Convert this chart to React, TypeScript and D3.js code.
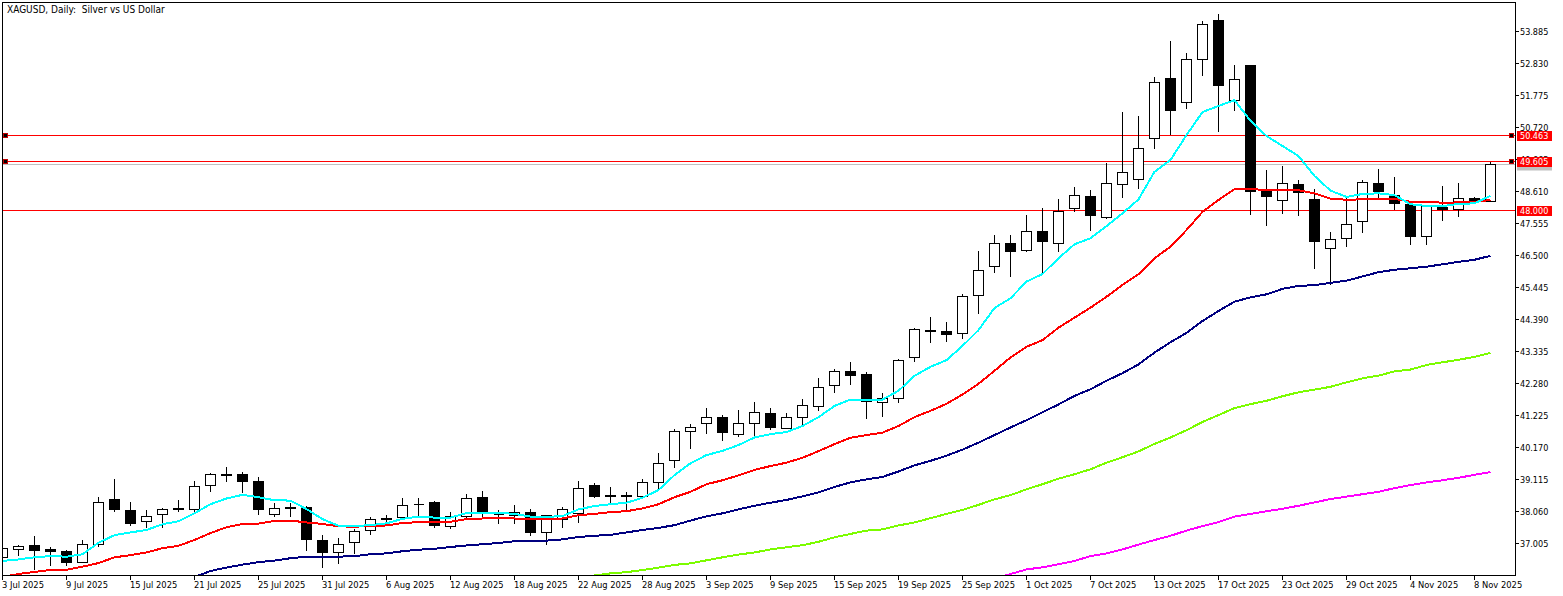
import React, { useEffect, useRef } from 'react';
import * as d3 from 'd3';

const title = 'XAGUSD, Daily:  Silver vs US Dollar';

const opens = [
  36.54, 36.81, 36.94, 36.81, 36.74, 36.38, 36.97, 38.46, 38.09, 37.73,
  37.96, 38.16, 38.13, 38.92, 39.28, 39.28, 39.05, 37.96, 38.19, 38.19,
  37.10, 36.71, 37.04, 37.43, 37.83, 37.86, 38.29, 38.36, 37.56, 37.89,
  38.52, 37.96, 37.93, 38.03, 37.37, 37.80, 37.99, 38.92, 38.55, 38.59,
  38.55, 39.02, 39.74, 40.70, 40.96, 41.16, 40.60, 40.96, 41.29, 40.80,
  41.16, 41.52, 42.22, 42.68, 42.58, 41.65, 41.78, 43.14, 44.03, 44.00,
  43.93, 45.18, 46.14, 46.89, 46.67, 47.29, 46.89, 48.05, 48.45, 47.75,
  48.84, 49.01, 50.36, 52.34, 51.54, 52.96, 54.25, 51.61, 52.76, 48.61,
  48.31, 48.84, 48.35, 46.73, 47.06, 47.62, 48.87, 48.48, 48.18, 47.13,
  48.08, 48.02, 48.38, 48.28,
];
const highs = [
  36.91, 36.94, 37.23, 36.87, 36.77, 37.10, 38.52, 39.11, 38.36, 38.09,
  38.16, 38.42, 39.05, 39.31, 39.51, 39.35, 39.18, 38.32, 38.32, 38.22,
  37.27, 37.17, 37.47, 37.86, 37.93, 38.49, 38.49, 38.39, 38.03, 38.62,
  38.72, 38.09, 38.26, 38.13, 37.93, 38.19, 39.05, 38.98, 38.85, 38.69,
  39.11, 39.97, 40.76, 40.93, 41.46, 41.23, 41.39, 41.65, 41.46, 41.29,
  41.75, 42.44, 42.74, 42.97, 42.64, 41.95, 43.07, 44.09, 44.46, 44.29,
  45.21, 46.63, 47.16, 47.16, 47.82, 48.05, 48.35, 48.74, 48.64, 49.53,
  51.21, 51.08, 52.37, 53.55, 53.16, 54.21, 54.45, 52.76, 52.76, 49.30,
  49.43, 48.97, 48.68, 47.26, 48.41, 48.97, 49.33, 49.07, 48.18, 48.11,
  48.77, 48.87, 48.41, 49.56,
];
const lows = [
  36.51, 36.61, 36.15, 36.28, 36.28, 36.38, 36.91, 38.06, 37.60, 37.53,
  37.53, 38.06, 38.03, 38.72, 39.05, 38.69, 37.96, 37.89, 37.89, 36.77,
  36.21, 36.34, 36.67, 37.30, 37.73, 37.83, 37.93, 37.53, 37.50, 37.83,
  37.83, 37.66, 37.66, 37.27, 36.97, 37.53, 37.70, 38.52, 38.36, 38.06,
  38.55, 38.82, 39.51, 40.14, 40.63, 40.40, 40.53, 40.57, 40.76, 40.80,
  40.93, 41.39, 41.98, 42.25, 41.13, 41.19, 41.65, 43.01, 43.63, 43.66,
  43.76, 44.59, 45.94, 45.81, 46.63, 45.94, 46.63, 47.95, 47.32, 47.72,
  48.41, 48.71, 50.03, 50.49, 51.35, 52.43, 50.59, 51.28, 47.85, 47.49,
  47.88, 47.82, 46.07, 45.54, 46.80, 47.26, 48.38, 48.02, 46.86, 46.86,
  47.65, 47.79, 48.25, 48.28,
];
const closes = [
  36.84, 36.91, 36.77, 36.74, 36.38, 36.97, 38.36, 38.13, 37.66, 37.89,
  38.13, 38.13, 38.88, 39.28, 39.25, 39.05, 38.13, 38.16, 38.16, 37.14,
  36.71, 36.97, 37.40, 37.80, 37.80, 38.26, 38.29, 37.60, 37.89, 38.49,
  38.03, 37.96, 38.03, 37.37, 37.93, 38.13, 38.82, 38.55, 38.59, 38.55,
  39.02, 39.64, 40.70, 40.83, 41.16, 40.66, 40.96, 41.32, 40.83, 41.16,
  41.55, 42.15, 42.68, 42.55, 41.69, 41.78, 43.04, 44.06, 44.00, 43.90,
  45.15, 46.01, 46.89, 46.63, 47.29, 46.96, 47.95, 48.48, 47.82, 48.87,
  49.24, 50.03, 52.20, 51.28, 52.96, 54.12, 52.10, 52.30, 48.61, 48.45,
  48.87, 48.58, 46.96, 47.03, 47.52, 48.91, 48.61, 48.21, 47.13, 48.11,
  48.02, 48.38, 48.28, 49.50,
];

// moving averages, one value per bar
const maCyan = [
  36.43, 36.48, 36.55, 36.59, 36.57, 36.65, 37.03, 37.28, 37.37, 37.45,
  37.64, 37.74, 38.00, 38.30, 38.49, 38.61, 38.53, 38.43, 38.42, 38.14,
  37.81, 37.59, 37.58, 37.61, 37.67, 37.82, 37.89, 37.86, 37.86, 38.01,
  38.02, 38.02, 37.98, 37.89, 37.88, 37.91, 38.13, 38.24, 38.30, 38.35,
  38.51, 38.77, 39.26, 39.65, 39.92, 40.06, 40.25, 40.50, 40.61, 40.68,
  40.88, 41.17, 41.54, 41.75, 41.74, 41.75, 42.04, 42.53, 42.83, 43.05,
  43.52, 44.04, 44.77, 45.09, 45.64, 45.89, 46.41, 46.87, 47.07, 47.47,
  47.89, 48.35, 49.26, 49.65, 50.47, 51.23, 51.43, 51.62, 50.94, 50.44,
  50.11, 49.78, 49.12, 48.64, 48.43, 48.53, 48.55, 48.49, 48.19, 48.13,
  48.13, 48.20, 48.22, 48.47,
];
const maRed = [
  35.90, 36.00, 36.07, 36.13, 36.14, 36.24, 36.36, 36.55, 36.62, 36.71,
  36.85, 36.93, 37.12, 37.35, 37.54, 37.65, 37.66, 37.75, 37.76, 37.70,
  37.65, 37.57, 37.56, 37.58, 37.60, 37.68, 37.71, 37.71, 37.72, 37.81,
  37.83, 37.83, 37.83, 37.81, 37.81, 37.83, 37.94, 37.98, 38.04, 38.07,
  38.16, 38.30, 38.53, 38.71, 38.96, 39.09, 39.25, 39.43, 39.56, 39.67,
  39.83, 40.05, 40.28, 40.49, 40.58, 40.66, 40.88, 41.17, 41.38, 41.61,
  41.92, 42.27, 42.70, 43.14, 43.49, 43.71, 44.12, 44.45, 44.78, 45.14,
  45.53, 45.88, 46.41, 46.79, 47.34, 47.94, 48.33, 48.69, 48.69, 48.66,
  48.66, 48.65, 48.55, 48.37, 48.34, 48.35, 48.37, 48.37, 48.27, 48.27,
  48.24, 48.25, 48.27, 48.33,
];
// the slower averages only enter the visible price range later on
const maNavyStart = 12;
const maNavy = [
  35.90, 36.10, 36.21, 36.31, 36.39, 36.44, 36.52, 36.57, 36.57, 36.57,
  36.59, 36.65, 36.68, 36.75, 36.80, 36.83, 36.89, 36.94, 36.98, 37.02,
  37.08, 37.10, 37.10, 37.14, 37.22, 37.26, 37.29, 37.37, 37.45, 37.52,
  37.61, 37.76, 37.90, 38.00, 38.13, 38.25, 38.35, 38.44, 38.56, 38.69,
  38.87, 39.02, 39.12, 39.20, 39.38, 39.58, 39.73, 39.90, 40.10, 40.33,
  40.58, 40.83, 41.07, 41.33, 41.59, 41.87, 42.09, 42.37, 42.62, 42.91,
  43.30, 43.64, 43.95, 44.34, 44.67, 44.98, 45.12, 45.22, 45.40, 45.50,
  45.52, 45.60, 45.67, 45.81, 45.95, 46.03, 46.08, 46.13, 46.21, 46.29,
  46.36, 46.49,
];
const maLimeStart = 36;
const maLime = [
  35.90, 35.95, 36.02, 36.06, 36.13, 36.21, 36.30, 36.35, 36.45, 36.55,
  36.64, 36.71, 36.81, 36.88, 36.95, 37.06, 37.21, 37.32, 37.43, 37.47,
  37.60, 37.70, 37.84, 37.98, 38.11, 38.28, 38.46, 38.60, 38.79, 38.96,
  39.14, 39.29, 39.45, 39.67, 39.85, 40.04, 40.29, 40.50, 40.74, 41.01,
  41.24, 41.47, 41.60, 41.71, 41.86, 41.99, 42.08, 42.17, 42.32, 42.45,
  42.54, 42.68, 42.74, 42.89, 42.98, 43.06, 43.16, 43.29,
];
const maMagentaStart = 62;
const maMagenta = [
  35.84, 36.00, 36.15, 36.22, 36.32, 36.43, 36.59, 36.68, 36.81, 36.97,
  37.12, 37.26, 37.43, 37.58, 37.71, 37.89, 37.98, 38.07, 38.15, 38.25,
  38.36, 38.47, 38.55, 38.63, 38.71, 38.83, 38.93, 39.02, 39.09, 39.17,
  39.27, 39.36,
];

const priceTicks = [
  '53.885', '52.830', '51.775', '50.720', '49.665', '48.610', '47.555', '46.500',
  '45.445', '44.390', '43.335', '42.280', '41.225', '40.170', '39.115', '38.060', '37.005',
];
const dateLabels = [
  '3 Jul 2025', '9 Jul 2025', '15 Jul 2025', '21 Jul 2025', '25 Jul 2025', '31 Jul 2025',
  '6 Aug 2025', '12 Aug 2025', '18 Aug 2025', '22 Aug 2025', '28 Aug 2025', '3 Sep 2025',
  '9 Sep 2025', '15 Sep 2025', '19 Sep 2025', '25 Sep 2025', '1 Oct 2025', '7 Oct 2025',
  '13 Oct 2025', '17 Oct 2025', '23 Oct 2025', '29 Oct 2025', '4 Nov 2025', '8 Nov 2025',
];
const dateStep = 4; // bars between two date labels

const levels = ['50.463', '49.605', '48.000'];
const bidLevel = '49.500';

const FONT = '"DejaVu Sans", sans-serif';

const App: React.FC = () => {
  const svgRef = useRef<SVGSVGElement>(null);

  useEffect(() => {
    if (!svgRef.current) return;
    const svg = d3.select(svgRef.current);
    svg.selectAll('*').remove();

    const left = 2;
    const right = 1515;
    const top = 2;
    const bottom = 575;

    const x = d3.scaleLinear().domain([0, opens.length - 1]).range([2.5, 1490.5]);
    const y = d3.scaleLinear().domain([53.885, 37.005]).range([31.5, 543.5]);
    // snap to the pixel row, the terminal draws everything aliased
    const row = (v: number) => Math.floor(y(v)) + 0.5;

    svg.append('defs').append('clipPath').attr('id', 'plot')
      .append('rect')
      .attr('x', left + 1).attr('y', top + 1)
      .attr('width', right - left - 1).attr('height', bottom - top - 1);

    const plot = svg.append('g').attr('clip-path', 'url(#plot)').attr('shape-rendering', 'crispEdges');

    // Horizontal levels sit behind the candles
    plot.append('line')
      .attr('x1', left).attr('x2', right)
      .attr('y1', row(+bidLevel)).attr('y2', row(+bidLevel))
      .attr('stroke', '#c0c0c0');
    plot.selectAll('line.level').data(levels).join('line')
      .attr('class', 'level')
      .attr('x1', left).attr('x2', right)
      .attr('y1', d => row(+d)).attr('y2', d => row(+d))
      .attr('stroke', '#ff0000');

    // Candles
    const bars = d3.range(opens.length);
    plot.selectAll('line.wick').data(bars).join('line')
      .attr('class', 'wick')
      .attr('x1', i => x(i)).attr('x2', i => x(i))
      .attr('y1', i => row(highs[i]) - 0.5).attr('y2', i => row(lows[i]) + 0.5)
      .attr('stroke', '#000');
    plot.selectAll('path.body').data(bars).join('path')
      .attr('class', 'body')
      .attr('d', i => {
        const t = row(Math.max(opens[i], closes[i]));
        const b = row(Math.min(opens[i], closes[i]));
        return `M${x(i) - 5},${t}H${x(i) + 5}V${b}H${x(i) - 5}Z`;
      })
      .attr('fill', i => (closes[i] < opens[i] ? '#000' : '#fff'))
      .attr('stroke', '#000');

    // Moving averages
    const drawMa = (values: number[], start: number, color: string) => {
      const line = d3.line<number>()
        .x((_, i) => x(i + start))
        .y(d => y(d));
      plot.append('path')
        .attr('d', line(values))
        .attr('fill', 'none')
        .attr('stroke', color)
        .attr('stroke-width', 2);
    };
    drawMa(maMagenta, maMagentaStart, '#ff00ff');
    drawMa(maLime, maLimeStart, '#7cfc00');
    drawMa(maNavy, maNavyStart, '#000080');
    drawMa(maRed, 0, '#ff0000');
    drawMa(maCyan, 0, '#00ffff');

    // Frame
    const frame = svg.append('g').attr('shape-rendering', 'crispEdges').attr('stroke', '#000');
    frame.append('rect')
      .attr('x', left + 0.5).attr('y', top + 0.5)
      .attr('width', right - left).attr('height', bottom - top)
      .attr('fill', 'none');

    // Price axis
    const priceAxis = svg.append('g');
    priceAxis.selectAll('line').data(priceTicks).join('line')
      .attr('shape-rendering', 'crispEdges')
      .attr('x1', right).attr('x2', right + 4)
      .attr('y1', d => row(+d)).attr('y2', d => row(+d))
      .attr('stroke', '#000');
    const labelStyle = (sel: any) => sel
      .attr('font-family', FONT)
      .attr('font-stretch', 'condensed')
      .attr('font-size', 9)
      .style('white-space', 'pre');
    priceAxis.selectAll('text').data(priceTicks).join('text')
      .attr('x', right + 5)
      .attr('y', d => row(+d) + 3.5)
      .text(d => d)
      .call(labelStyle);

    // Time axis
    const dateIndex = dateLabels.map((_, k) => k * dateStep);
    const timeAxis = svg.append('g');
    timeAxis.selectAll('line').data(dateIndex).join('line')
      .attr('shape-rendering', 'crispEdges')
      .attr('x1', i => x(i)).attr('x2', i => x(i))
      .attr('y1', bottom).attr('y2', bottom + 5)
      .attr('stroke', '#000');
    timeAxis.selectAll('text').data(dateLabels).join('text')
      .attr('x', (_, k) => Math.floor(x(k * dateStep)))
      .attr('y', bottom + 13)
      .text(d => d)
      .call(labelStyle)
      .attr('font-size', 9.3);

    // Level tags on the price axis
    const tags = svg.append('g');
    tags.append('rect')
      .attr('x', right + 2).attr('width', 35)
      .attr('y', row(+bidLevel) - 5).attr('height', 11)
      .attr('fill', '#c0c0c0');
    levels.forEach(level => {
      const ly = row(+level);
      tags.append('rect')
        .attr('x', right + 2).attr('width', 35)
        .attr('y', ly - 4.5).attr('height', 10)
        .attr('fill', '#ff0000');
      tags.append('text')
        .attr('x', right + 5)
        .attr('y', ly + 3.5)
        .attr('fill', '#fff')
        .text(level)
        .call(labelStyle);
    });

    // Anchor squares of the two drawn lines
    const anchors = svg.append('g').attr('shape-rendering', 'crispEdges');
    levels.slice(0, 2).forEach(level => {
      [left + 3.5, right - 3.5].forEach(cx => {
        anchors.append('rect')
          .attr('x', cx - 2).attr('y', row(+level) - 2)
          .attr('width', 4).attr('height', 4)
          .attr('fill', '#000')
          .attr('stroke', '#c00000');
      });
    });

    svg.append('text')
      .attr('x', 7).attr('y', 12.5)
      .text(title)
      .call(labelStyle)
      .attr('font-size', 10);
  }, []);

  return (
    <svg
      ref={svgRef}
      width={1563}
      height={596}
      style={{ position: 'fixed', left: 0, top: 0, background: '#fff' }}
    />
  );
};

export default App;
